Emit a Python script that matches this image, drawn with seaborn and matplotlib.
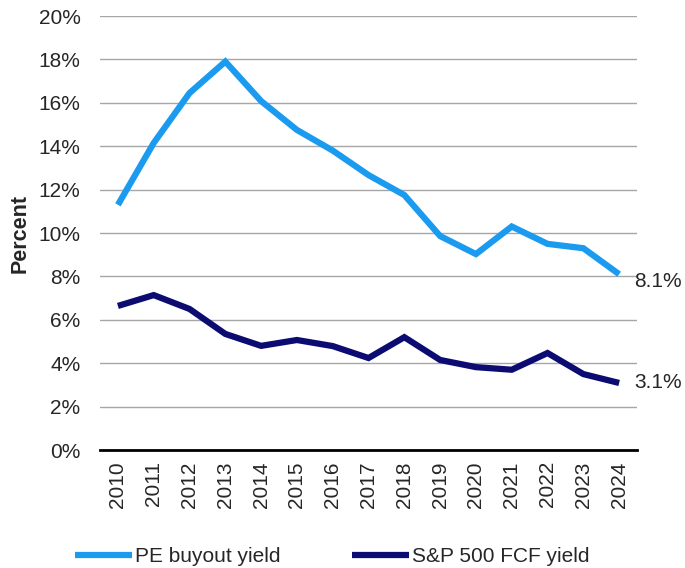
import seaborn as sns
import pandas as pd
import matplotlib.pyplot as plt
from matplotlib.ticker import FuncFormatter

years = [str(y) for y in range(2010, 2025)]
pe_yield = [11.3, 14.15, 16.45, 17.9, 16.08, 14.75, 13.8, 12.67, 11.75,
            9.86, 9.03, 10.3, 9.5, 9.3, 8.1]
sp_yield = [6.64, 7.14, 6.5, 5.35, 4.8, 5.07, 4.79, 4.24, 5.2,
            4.15, 3.82, 3.7, 4.47, 3.5, 3.09]
series_names = ['PE buyout yield', 'S&P 500 FCF yield']
end_labels = ['8.1%', '3.1%']
colors = ['#1A9BEF', '#0B0B72']

df = pd.DataFrame({'year': years * 2,
                   'value': pe_yield + sp_yield,
                   'series': [series_names[0]] * len(years) + [series_names[1]] * len(years)})

sns.set_style('white')
plt.rcParams['font.family'] = ['Liberation Sans', 'DejaVu Sans']
fs = 15

fig = plt.figure(figsize=(6.85, 5.68), dpi=100)
ax = fig.add_axes([0.146, 0.2077, 0.784, 0.7641])

sns.lineplot(data=df, x='year', y='value', hue='series', palette=colors,
             linewidth=4.5, sort=False, ax=ax, legend=True,
             solid_capstyle='butt', solid_joinstyle='miter')

ax.set_xlim(-0.5, 14.5)
ax.set_ylim(0, 20)
ax.set_yticks(range(0, 21, 2))
ax.yaxis.set_major_formatter(FuncFormatter(lambda v, p: f'{v:.0f}%'))
ax.grid(axis='y', color='#A6A6A6', linewidth=1)
ax.set_axisbelow(True)
for s in ['top', 'right', 'left']:
    ax.spines[s].set_visible(False)
ax.spines['bottom'].set_color('black')
ax.spines['bottom'].set_linewidth(2)
ax.tick_params(axis='x', labelrotation=90, labelsize=fs, length=0, pad=8)
ax.tick_params(axis='y', labelsize=fs, length=0, pad=14)
ax.set_xlabel('')
ax.set_ylabel('Percent', fontsize=15.5, fontweight='bold', labelpad=6)

# end labels, the top one sits a little below its point
last = len(years) - 1
offsets = [(11, -5), (11, 0)]
for vals, lab, off in zip([pe_yield, sp_yield], end_labels, offsets):
    ax.annotate(lab, (last, vals[-1]), xytext=off, textcoords='offset points',
                fontsize=fs, va='center', ha='left', annotation_clip=False)

handles, labels = ax.get_legend_handles_labels()
ax.get_legend().remove()
leg = fig.legend(handles, labels, loc='center left', bbox_to_anchor=(75 / 685, 1 - 557 / 568),
                 ncol=2, frameon=False, fontsize=fs, handlelength=2.74,
                 handletextpad=0.15, columnspacing=3.4, borderpad=0, borderaxespad=0)
for h in leg.get_lines():
    h.set_solid_capstyle('butt')

fig.savefig('out.png', dpi=100)
